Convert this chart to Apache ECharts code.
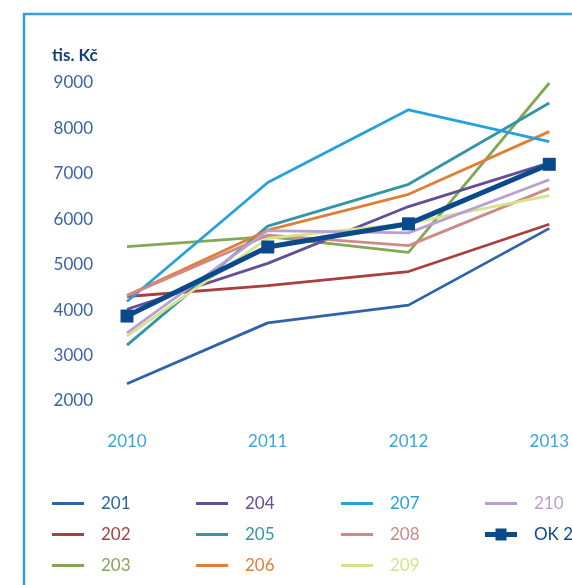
<!DOCTYPE html>
<html>
<head>
<meta charset="utf-8">
<script src="https://cdn.jsdelivr.net/npm/echarts@6/dist/echarts.min.js"></script>
<style>
  html, body { margin: 0; padding: 0; background: #fff; }
  #main { width: 572px; height: 585px; }
</style>
</head>
<body>
<div id="main"></div>
<script>
// roky
var years = ['2010', '2011', '2012', '2013'];
var yTicks = [2000, 3000, 4000, 5000, 6000, 7000, 8000, 9000];

// hodnoty v tis. Kč
var s201 = [2380, 3720, 4110, 5800];
var s202 = [4300, 4540, 4850, 5890];
var s203 = [5400, 5620, 5270, 9000];
var s204 = [4020, 5030, 6280, 7240];
var s205 = [3230, 5850, 6770, 8560];
var s206 = [4320, 5760, 6550, 7930];
var s207 = [4190, 6810, 8410, 7710];
var s208 = [4320, 5650, 5420, 6680];
var s209 = [3430, 5580, 5910, 6520];
var s210 = [3500, 5750, 5700, 6870];
var sOK = [3870, 5390, 5900, 7210];

var names = ['201', '202', '203', '204', '205', '206', '207', '208', '209', '210', 'OK 200'];
var values = [s201, s202, s203, s204, s205, s206, s207, s208, s209, s210, sOK];
var colors = ['#2d64a8', '#a8403f', '#82a856', '#634f96', '#3395a8', '#e07f38',
              '#27a1dc', '#cf8a87', '#d5e38a', '#b9a0cf', '#0a4a8c'];

var chart = echarts.init(document.getElementById('main'));

var series = names.map(function (n, i) {
    var ok = (n.indexOf('OK') === 0);
    return {
        name: n,
        type: 'line',
        data: values[i],
        color: colors[i],
        symbol: ok ? 'rect' : 'none',
        symbolSize: 13,
        lineStyle: { width: ok ? 5 : 2.8, color: colors[i] },
        itemStyle: { color: colors[i] },
        z: ok ? 5 : 2,
        silent: true,
        animation: false
    };
});

// legenda ve 4 sloupcich
var lineIcon = 'path://M0,0H32V3H0Z';
var okIcon = 'path://M0,3.5H32V8.5H0Z M10.5,0H21.5V12H10.5Z';
function legendCol(items, left) {
    return {
        orient: 'vertical',
        left: left,
        top: 495,
        padding: 0,
        itemWidth: 32,
        itemHeight: 14,
        itemGap: 14,
        selectedMode: false,
        textStyle: { fontFamily: 'Lato', fontSize: 17, padding: [0, 0, 0, 12] },
        data: items.map(function (idx) {
            return {
                name: names[idx],
                icon: names[idx].indexOf('OK') === 0 ? okIcon : lineIcon,
                textStyle: { color: colors[idx] }
            };
        })
    };
}

var option = {
    animation: false,
    textStyle: { fontFamily: 'Lato' },
    grid: { left: 127, right: 15, top: 83, bottom: 184, containLabel: false },
    graphic: [
        {
            type: 'rect',
            shape: { x: 24, y: 14, width: 700, height: 700 },
            style: { fill: 'none', stroke: '#38a0d8', lineWidth: 2.5 },
            silent: true
        },
        {
            type: 'text',
            left: 52,
            top: 47,
            style: { text: 'tis. Kč', fill: '#163f7a', font: 'bold 17px Lato' }
        }
    ],
    legend: [
        legendCol([0, 1, 2], 52),
        legendCol([3, 4, 5], 196),
        legendCol([6, 7, 8], 341),
        legendCol([9, 10], 485)
    ],
    xAxis: {
        type: 'category',
        data: years,
        boundaryGap: false,
        axisLine: { show: false },
        axisTick: { show: false },
        axisLabel: { color: '#3aa6dc', fontSize: 17, margin: 32 },
        splitLine: { show: false }
    },
    yAxis: {
        type: 'value',
        min: 2000,
        max: 9000,
        interval: 1000,
        axisLine: { show: false },
        axisTick: { show: false },
        splitLine: { show: false },
        axisLabel: {
            color: '#3b63a3',
            fontSize: 17,
            margin: 34,
            formatter: function (v) { return yTicks.indexOf(v) >= 0 ? String(v) : ''; }
        }
    },
    series: series
};

chart.setOption(option);
</script>
</body>
</html>
